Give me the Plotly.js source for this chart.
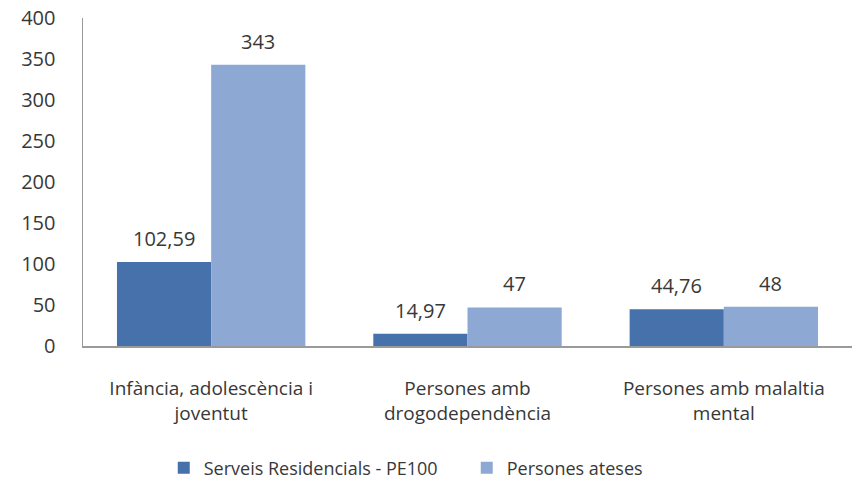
<!DOCTYPE html>
<html><head><meta charset="utf-8">
<script src="https://cdn.plot.ly/plotly-3.0.1.min.js"></script>
<style>body{margin:0;background:#fff}#c{width:857px;height:486px}</style>
</head><body><div id="c"></div>
<script>
const categories = ["Infància, adolescència i<br>joventut", "Persones amb<br>drogodependència", "Persones amb malaltia<br>mental"];
const seriesNames = ["Serveis Residencials - PE100", "Persones ateses"];
const residencials = [102.59, 14.97, 44.76];
const ateses = [343, 47, 48];
const yTicks = [0, 50, 100, 150, 200, 250, 300, 350, 400];

const W = 857, H = 486, mL = 83, mR = 5, mT = 18, mB = 140;
const bargap = 0.265;
const catW = (W - mL - mR) / categories.length;
const barW = catW * (1 - bargap) / 2;
const fmt = v => String(v).replace('.', ',');
const fam = "Open Sans, Lato, sans-serif";
const col = "#383838";
const font = {family: fam, size: 19, color: col};
const numFont = {family: fam, size: 20, color: col};

const traces = [
  {type: "bar", name: seriesNames[0], x: categories, y: residencials, marker: {color: "#4671AA"}, hoverinfo: "none"},
  {type: "bar", name: seriesNames[1], x: categories, y: ateses, marker: {color: "#8DA9D3"}, hoverinfo: "none"}
];
const annotations = [];
[residencials, ateses].forEach((arr, s) => {
  arr.forEach((v, i) => {
    annotations.push({x: i, y: v, xref: "x", yref: "y", text: fmt(v), showarrow: false,
      yanchor: "bottom", yshift: 8, xshift: (s === 0 ? -1 : 1) * barW / 2, font: numFont});
  });
});

const layout = {
  width: W, height: H,
  margin: {l: mL, r: mR, t: mT, b: mB, autoexpand: false},
  paper_bgcolor: "#fff", plot_bgcolor: "#fff",
  font: font,
  barmode: "group", bargap: bargap, bargroupgap: 0,
  xaxis: {type: "category", automargin: false, showline: true, linecolor: "#9a9a9a", linewidth: 1.5, ticks: "", showgrid: false,
    tickfont: font, ticklabelstandoff: 25, zeroline: false},
  yaxis: {range: [0, 400], automargin: false, tickvals: yTicks, showline: true, linecolor: "#9a9a9a", linewidth: 1.5, ticks: "",
    showgrid: false, zeroline: false, tickfont: numFont, ticklabelstandoff: 22},
  showlegend: true,
  legend: {orientation: "h", x: 0.105, xanchor: "left", y: -0.372, yanchor: "middle",
    font: {family: fam, size: 18, color: col}, traceorder: "normal", itemwidth: 30,
    entrywidth: 258, entrywidthmode: "pixels"},
  annotations: annotations
};
Plotly.newPlot("c", traces, layout, {staticPlot: true});
</script></body></html>
